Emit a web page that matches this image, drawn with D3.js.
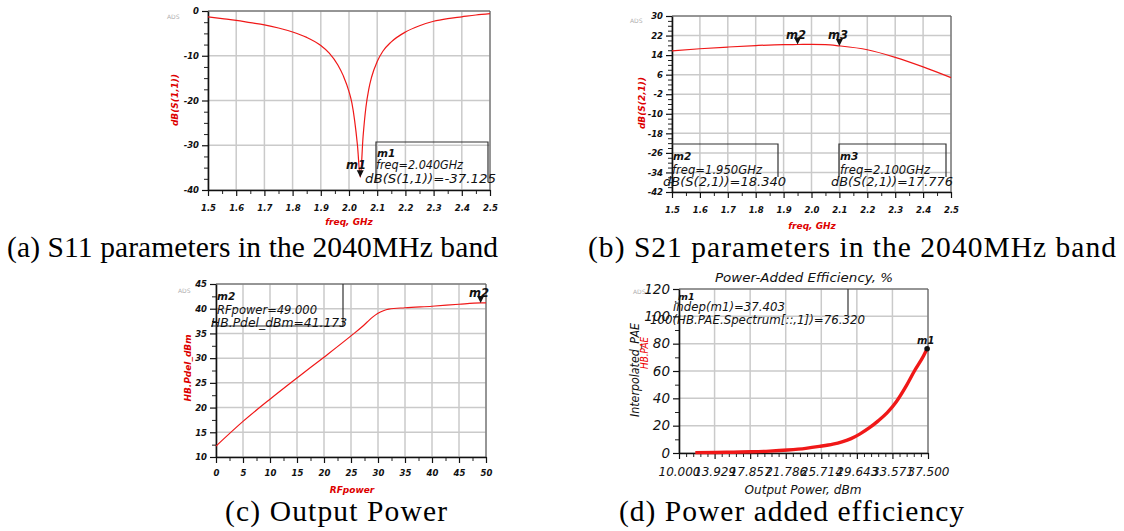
<!DOCTYPE html>
<html><head><meta charset="utf-8">
<script src="https://cdn.jsdelivr.net/npm/d3@7"></script>
<style>html,body{margin:0;padding:0;background:#fff;}svg{display:block;}</style>
</head><body>
<svg id="c" width="1124" height="531"></svg>
<script>
// ---------- DATA ----------
const s11Freq = [1.5,1.55,1.6,1.65,1.7,1.75,1.8,1.85,1.9,1.93,1.96,1.98,2.0,2.01,2.02,2.03,2.04,2.05,2.06,2.07,2.08,2.1,2.12,2.15,2.2,2.25,2.3,2.35,2.4,2.45,2.5];
const s11dB   = [-1.3,-1.7,-2.1,-2.6,-3.1,-3.8,-4.7,-5.9,-7.7,-9.4,-12.0,-14.5,-18.0,-20.5,-24.5,-30.0,-37.125,-28.0,-21.5,-17.5,-14.8,-11.3,-9.0,-6.9,-4.7,-3.3,-2.3,-1.7,-1.3,-0.9,-0.6];
const s21Freq = [1.5,1.6,1.7,1.8,1.9,1.95,2.0,2.05,2.1,2.2,2.3,2.4,2.5];
const s21dB   = [15.7,16.6,17.3,17.9,18.3,18.34,18.4,18.3,17.776,16.2,13.1,9.2,4.8];
const rfPower = [0,5,10,15,20,25,27,28,29,30,31,32,35,40,45,49,50];
const pdelDBm = [12.2,17.2,21.7,26.0,30.2,34.5,36.3,37.3,38.3,39.1,39.6,39.9,40.2,40.5,40.9,41.173,41.2];
const poutDBm = [11.8,14,16,18,20,22,24,25.5,27,28,29,30,31,32,33,34,35,36,37,37.403];
const paePct  = [0.3,0.4,0.6,0.9,1.4,2.2,3.4,4.8,6.5,8.2,10.5,14,18.3,23.5,29.5,37.5,48,60,71,76.32];

const freqTicks = [1.5,1.6,1.7,1.8,1.9,2.0,2.1,2.2,2.3,2.4,2.5];
const s11Ticks = [0,-10,-20,-30,-40];
const s21Ticks = [30,22,14,6,-2,-10,-18,-26,-34,-42];
const rfTicks = [0,5,10,15,20,25,30,35,40,45,50];
const pdelTicks = [10,15,20,25,30,35,40,45];
const poutTicks = [10.000,13.929,17.857,21.786,25.714,29.643,33.571,37.500];
const poutTickLabels = ["10.000","13.929","17.857","21.786","25.714","29.643","33.571","37.500"];
const paeTicks = [0,20,40,60,80,100,120];

const captions = ["(a) S11 parameters in the 2040MHz band","(b) S21 parameters in the 2040MHz band","(c) Output Power","(d) Power added efficiency"];

// ---------- DRAW ----------
const svg = d3.select("#c");
svg.append("rect").attr("width",1124).attr("height",531).attr("fill","#fff");

const GRID = "#cacaca", RED = "#f01818", AXRED = "#dd0000";
const tickFont = "'DejaVu Sans', sans-serif";
const plain = d => String(d);

function panel(cfg){
  const g = svg.append("g");
  const x = d3.scaleLinear().domain(cfg.xd).range([cfg.l, cfg.r]);
  const y = d3.scaleLinear().domain(cfg.yd).range([cfg.b, cfg.t]);
  g.append("g").selectAll("line").data(cfg.xTicks).join("line")
    .attr("x1",d=>x(d)).attr("x2",d=>x(d)).attr("y1",cfg.t).attr("y2",cfg.b)
    .attr("stroke",GRID).attr("stroke-width",1.5);
  g.append("g").selectAll("line").data(cfg.yTicks).join("line")
    .attr("y1",d=>y(d)).attr("y2",d=>y(d)).attr("x1",cfg.l).attr("x2",cfg.r)
    .attr("stroke",GRID).attr("stroke-width",1.5);
  g.append("path").attr("d",`M${cfg.l},${cfg.t}H${cfg.r}V${cfg.b}`).attr("fill","none")
    .attr("stroke","#555").attr("stroke-width",1);
  const xMinor = [], yMinor = [];
  for(let i=0;i<cfg.xTicks.length-1;i++){const a=cfg.xTicks[i],b=cfg.xTicks[i+1];for(let k=1;k<cfg.xMinor;k++)xMinor.push(a+(b-a)*k/cfg.xMinor);}
  const ys=[...cfg.yTicks].sort((a,b)=>a-b);
  for(let i=0;i<ys.length-1;i++){const a=ys[i],b=ys[i+1];for(let k=1;k<cfg.yMinor;k++)yMinor.push(a+(b-a)*k/cfg.yMinor);}
  g.append("g").attr("transform",`translate(0,${cfg.b})`)
    .call(d3.axisBottom(x).tickValues(xMinor).tickSize(4).tickFormat(""))
    .call(s=>{s.select(".domain").remove();s.selectAll("line").attr("stroke","#222");});
  g.append("g").attr("transform",`translate(${cfg.l},0)`)
    .call(d3.axisLeft(y).tickValues(yMinor).tickSize(4).tickFormat(""))
    .call(s=>{s.select(".domain").remove();s.selectAll("line").attr("stroke","#222");});
  const xa = g.append("g").attr("transform",`translate(0,${cfg.b})`)
    .call(d3.axisBottom(x).tickValues(cfg.xTicks).tickSize(6).tickSizeOuter(0).tickPadding(cfg.xPad||7)
      .tickFormat(cfg.xFmt));
  xa.select(".domain").attr("stroke","#111").attr("stroke-width",1.6);
  xa.selectAll("line").attr("stroke","#111").attr("stroke-width",1.2);
  xa.selectAll("text").attr("font-family",tickFont).attr("font-size",cfg.xfs||8.5)
    .attr("font-weight",cfg.bold===false?"normal":"bold").attr("font-style","italic").attr("fill","#111");
  const ya = g.append("g").attr("transform",`translate(${cfg.l},0)`)
    .call(d3.axisLeft(y).tickValues(cfg.yTicks).tickSize(6).tickSizeOuter(0).tickPadding(cfg.yPad||3)
      .tickFormat(cfg.yFmt));
  ya.select(".domain").attr("stroke","#111").attr("stroke-width",1.6);
  ya.selectAll("line").attr("stroke","#111").attr("stroke-width",1.2);
  ya.selectAll("text").attr("font-family",tickFont).attr("font-size",cfg.yfs||8.5)
    .attr("font-weight",cfg.bold===false?"normal":"bold").attr("font-style","italic").attr("fill","#111");
  g.append("text").attr("x",cfg.ads[0]).attr("y",cfg.ads[1]).text("ADS")
    .attr("font-family","'DejaVu Sans',sans-serif").attr("font-size",6).attr("fill","#b0b0b0");
  const line = d3.line().x(d=>x(d[0])).y(d=>y(d[1])).curve(d3.curveMonotoneX);
  g.append("path").datum(d3.zip(cfg.xs,cfg.ys)).attr("d",line).attr("fill","none")
    .attr("stroke",RED).attr("stroke-width",cfg.lw||1.2).attr("stroke-linejoin","round");
  return {g,x,y};
}

function txt(g,x,y,s,o={}){
  const t = g.append("text").attr("x",x).attr("y",y).text(s)
    .attr("font-family",o.ff||"'DejaVu Sans',sans-serif").attr("font-size",o.fs||11)
    .attr("font-style",o.st||"italic").attr("font-weight",o.fw||"normal")
    .attr("fill",o.fill||"#111").attr("text-anchor",o.anchor||"start");
  if(o.len) t.attr("textLength",o.len).attr("lengthAdjust","spacingAndGlyphs");
  if(o.rot) t.attr("transform",`rotate(-90,${x},${y})`);
  return t;
}
function marker(g,px,py,label,lx,ly){
  g.append("path").attr("d",`M${px},${py}l-3.5,-7h7z`).attr("fill","#111");
  txt(g,lx,ly,label,{fs:11.5,fw:"bold"});
}
const MK = {fs:12.5};

// (a)
const A = panel({l:208,r:490,t:11,b:190,xd:[1.5,2.5],yd:[-40,0],xTicks:freqTicks,yTicks:s11Ticks,
  xMinor:2,yMinor:4,xFmt:d3.format(".1f"),yFmt:plain,xs:s11Freq,ys:s11dB,ads:[167,19],xPad:9});
txt(A.g,349,225,"freq, GHz",{fs:9,fw:"bold",fill:AXRED,anchor:"middle"});
txt(A.g,178,100,"dB(S(1,1))",{fs:9,fw:"bold",fill:AXRED,anchor:"middle",rot:true});
A.g.append("path").attr("d","M376,182V142H488V182").attr("fill","none").attr("stroke","#333").attr("stroke-width",1.2);
marker(A.g,A.x(2.04),A.y(-37.125),"m1",346,169);
txt(A.g,377,157,"m1",{fs:10.5,fw:"bold"});
txt(A.g,376,169,"freq=2.040GHz",{...MK,len:87});
txt(A.g,365,183,"dB(S(1,1))=-37.125",{...MK,len:131});

// (b)
const B = panel({l:672,r:951,t:16,b:192,xd:[1.5,2.5],yd:[-42,30],xTicks:freqTicks,yTicks:s21Ticks,
  xMinor:2,yMinor:4,xFmt:d3.format(".1f"),yFmt:plain,xs:s21Freq,ys:s21dB,ads:[630,23],xPad:9});
txt(B.g,812,229,"freq, GHz",{fs:9,fw:"bold",fill:AXRED,anchor:"middle"});
txt(B.g,645,103,"dB(S(2,1))",{fs:9,fw:"bold",fill:AXRED,anchor:"middle",rot:true});
B.g.append("path").attr("d","M672,144H778V177").attr("fill","none").attr("stroke","#333").attr("stroke-width",1.2);
B.g.append("path").attr("d","M839,177V144H946V177").attr("fill","none").attr("stroke","#333").attr("stroke-width",1.2);
marker(B.g,B.x(1.95),B.y(18.34),"m2",786,39);
marker(B.g,B.x(2.1),B.y(17.776),"m3",828,39);
txt(B.g,673,160,"m2",{fs:10.5,fw:"bold"});
txt(B.g,672,174,"freq=1.950GHz",{...MK,len:90});
txt(B.g,663,186,"dB(S(2,1))=18.340",{...MK,len:123});
txt(B.g,840,160,"m3",{fs:10.5,fw:"bold"});
txt(B.g,840,174,"freq=2.100GHz",{...MK,len:90});
txt(B.g,831,186,"dB(S(2,1))=17.776",{...MK,len:122});

// (c)
const C = panel({l:216,r:486,t:284,b:457,xd:[0,50],yd:[10,45],xTicks:rfTicks,yTicks:pdelTicks,
  xMinor:2,yMinor:2,xFmt:d3.format("d"),yFmt:plain,xs:rfPower,ys:pdelDBm,ads:[178,293],xPad:7});
txt(C.g,352,493,"RFpower",{fs:9,fw:"bold",fill:AXRED,anchor:"middle"});
txt(C.g,191,368,"HB.Pdel_dBm",{fs:9,fw:"bold",fill:AXRED,anchor:"middle",rot:true});
C.g.append("path").attr("d","M211,326H343V284").attr("fill","none").attr("stroke","#333").attr("stroke-width",1.2);
marker(C.g,C.x(49),C.y(41.173),"m2",469,297);
txt(C.g,217,300,"m2",{fs:10.5,fw:"bold"});
txt(C.g,217,314,"RFpower=49.000",{...MK,len:100});
txt(C.g,211,327,"HB.Pdel_dBm=41.173",{...MK,len:136});

// (d)
const D = panel({l:679,r:928,t:289,b:453,xd:[10,37.5],yd:[0,120],xTicks:poutTicks,yTicks:paeTicks,
  xMinor:5,yMinor:2,xFmt:(d,i)=>poutTickLabels[i],yFmt:plain,xs:poutDBm,ys:paePct,ads:[633,294],
  xfs:12,yfs:13.5,bold:false,lw:3.4,xPad:8,yPad:3});
txt(D.g,804,282,"Power-Added Efficiency, %",{fs:13,anchor:"middle",len:178});
txt(D.g,803,494,"Output Power, dBm",{fs:12,anchor:"middle",len:117});
txt(D.g,639,370,"Interpolated_PAE",{fs:12,anchor:"middle",rot:true,len:94});
txt(D.g,648,353,"HB.PAE",{fs:11,anchor:"middle",rot:true,fill:"#ee0000",len:32});
D.g.append("path").attr("d","M848,289V315").attr("fill","none").attr("stroke","#333").attr("stroke-width",1.2);
D.g.append("circle").attr("cx",D.x(37.403)).attr("cy",D.y(76.32)).attr("r",2.8).attr("fill","#111");
txt(D.g,917,344,"m1",{fs:10,fw:"bold"});
txt(D.g,678,300,"m1",{fs:9.5,fw:"bold"});
txt(D.g,673,311,"indep(m1)=37.403",{fs:12,len:112});
txt(D.g,650,324,"100(HB.PAE.Spectrum[::,1])=76.320",{fs:12,len:215});

// captions
const capG = svg.append("g").attr("font-family","'Liberation Serif','Times New Roman',serif").attr("font-size",29.5).attr("fill","#000");
capG.append("text").attr("x",7).attr("y",257).text(captions[0]).attr("textLength",491).attr("lengthAdjust","spacing");
capG.append("text").attr("x",588).attr("y",257).text(captions[1]).attr("textLength",528).attr("lengthAdjust","spacing");
capG.append("text").attr("x",225).attr("y",521).text(captions[2]).attr("textLength",222).attr("lengthAdjust","spacing");
capG.append("text").attr("x",619).attr("y",521).text(captions[3]).attr("textLength",345).attr("lengthAdjust","spacing");
</script>
</body></html>
